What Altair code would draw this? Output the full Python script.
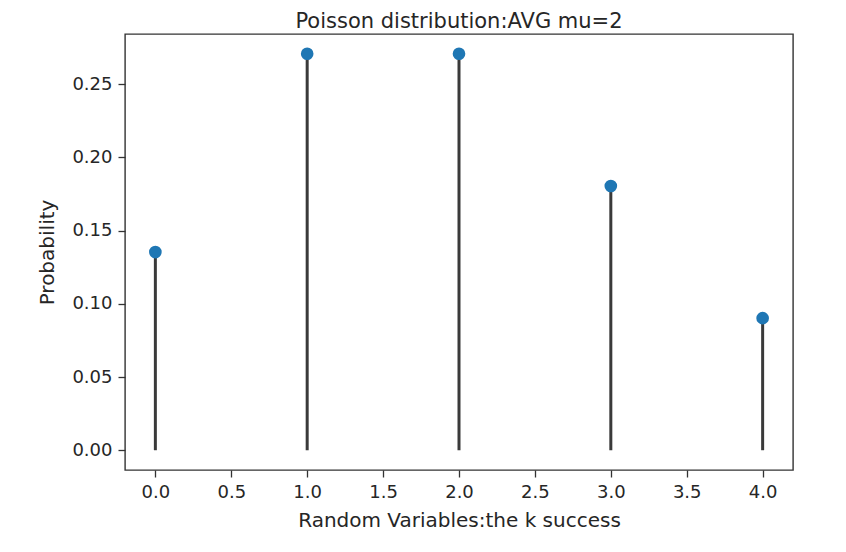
import altair as alt
import pandas as pd

k_values = [0, 1, 2, 3, 4]
probabilities = [0.1353, 0.2707, 0.2707, 0.1804, 0.0902]
x_ticks = [0.0, 0.5, 1.0, 1.5, 2.0, 2.5, 3.0, 3.5, 4.0]
y_ticks = [0.00, 0.05, 0.10, 0.15, 0.20, 0.25]

df = pd.DataFrame({"k": k_values, "p": probabilities, "zero": [0.0] * len(k_values)})

FONT = "DejaVu Sans"

x_scale = alt.Scale(domain=[-0.2, 4.2], nice=False, zero=False)
y_scale = alt.Scale(domain=[-0.0135, 0.2842], nice=False, zero=False)

x_axis = alt.Axis(values=x_ticks, format=".1f", title="Random Variables:the k success",
                  grid=False, domain=False, tickColor="#333", tickSize=7, tickWidth=1.3,
                  labelFont=FONT, labelFontSize=18, labelColor="#262626", labelPadding=6,
                  titleFont=FONT, titleFontSize=20, titleFontWeight="normal", titleColor="#262626",
                  titlePadding=9)
y_axis = alt.Axis(values=y_ticks, format=".2f", title="Probability",
                  grid=False, domain=False, tickColor="#333", tickSize=7, tickWidth=1.3,
                  labelFont=FONT, labelFontSize=18, labelColor="#262626", labelPadding=6,
                  titleFont=FONT, titleFontSize=20, titleFontWeight="normal", titleColor="#262626",
                  titlePadding=14)

base = alt.Chart(df)

stems = base.mark_rule(color="#3a3a3a", strokeWidth=3).encode(
    x=alt.X("k:Q", scale=x_scale, axis=x_axis),
    y=alt.Y("zero:Q", scale=y_scale, axis=y_axis),
    y2="p:Q",
)

dots = base.mark_circle(color="#1f77b4", size=160, opacity=1).encode(
    x=alt.X("k:Q", scale=x_scale),
    y=alt.Y("p:Q", scale=y_scale),
)

chart = (stems + dots).properties(
    width=668,
    height=436,
    title=alt.TitleParams("Poisson distribution:AVG mu=2", font=FONT, fontSize=21,
                          fontWeight="normal", color="#262626", offset=2),
    autosize=alt.AutoSizeParams(type="none"),
    padding={"left": 117, "top": 26, "right": 45, "bottom": 74},
    background="white",
).configure_view(stroke="#333333", strokeWidth=1.4)

chart.save("out.html", embed_options={"renderer": "svg", "actions": False})
